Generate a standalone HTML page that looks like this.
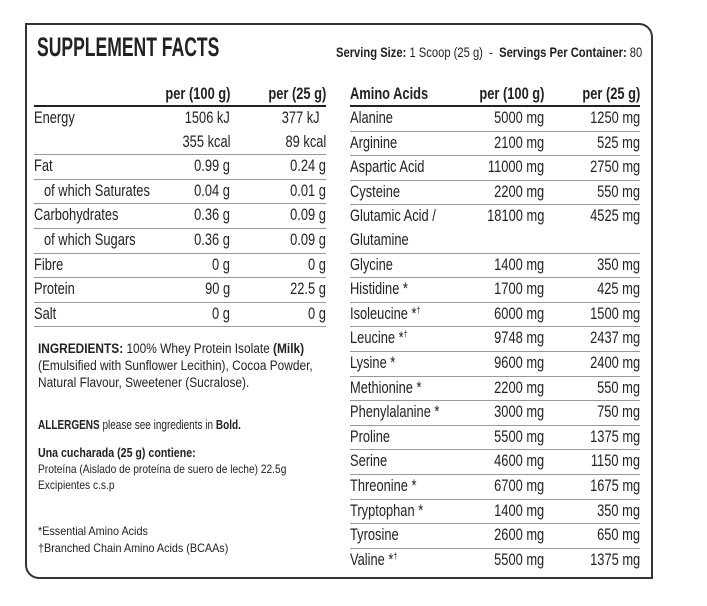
<!DOCTYPE html>
<html><head><meta charset="utf-8"><style>
body{margin:0;width:707px;height:606px;background:#fff;position:relative;overflow:hidden;font-family:"Liberation Sans",sans-serif;color:#222}
.box{position:absolute;left:25px;top:23px;width:624px;height:552px;border:2px solid #333;border-radius:0 14px 0 14px}
.t{position:absolute;white-space:nowrap;transform-origin:left top}
.tbl{position:absolute}
.row{position:relative;height:23.6px;border-bottom:1px solid #999;font-size:16.5px;line-height:23px}
.row.nb{border-bottom:none}
.row span,.hd span{position:absolute;top:0;transform:scaleX(0.78);white-space:nowrap}
.hd{height:22px;border-bottom:2px solid #222;font-weight:bold;font-size:16.5px;line-height:22px;position:relative}
.l{transform-origin:left center}
.r1{right:96px;transform-origin:right center}.r2{right:0;transform-origin:right center}
sup{font-size:9px;line-height:0;vertical-align:6px}
</style></head><body>
<div class="box"></div>
<div class="t" style="left:37px;top:32px;font-size:27px;font-weight:bold;transform:scaleX(0.65)">SUPPLEMENT FACTS</div>
<div class="t" style="left:336px;top:44px;font-size:14px;transform:scaleX(0.8)"><b>Serving Size:</b> 1 Scoop (25 g) &nbsp;- &nbsp;<b>Servings Per Container:</b> 80</div>

<div class="tbl" style="left:34px;top:83px;width:292px">
<div class="hd"><span class="r1">per (100 g)</span><span class="r2">per (25 g)</span></div>
<div class="row nb"><span class="l" style="left:0">Energy</span><span class="r1">1506 kJ</span><span class="r2" style="right:6px">377 kJ</span></div>
<div class="row"><span class="r1">355 kcal</span><span class="r2">89 kcal</span></div>
<div class="row"><span class="l" style="left:0">Fat</span><span class="r1">0.99 g</span><span class="r2">0.24 g</span></div>
<div class="row"><span class="l" style="left:10px">of which Saturates</span><span class="r1">0.04 g</span><span class="r2">0.01 g</span></div>
<div class="row"><span class="l" style="left:0">Carbohydrates</span><span class="r1">0.36 g</span><span class="r2">0.09 g</span></div>
<div class="row"><span class="l" style="left:10px">of which Sugars</span><span class="r1">0.36 g</span><span class="r2">0.09 g</span></div>
<div class="row"><span class="l" style="left:0">Fibre</span><span class="r1">0 g</span><span class="r2">0 g</span></div>
<div class="row"><span class="l" style="left:0">Protein</span><span class="r1">90 g</span><span class="r2">22.5 g</span></div>
<div class="row"><span class="l" style="left:0">Salt</span><span class="r1">0 g</span><span class="r2">0 g</span></div>
</div>

<div class="tbl" style="left:350px;top:83px;width:290px">
<div class="hd"><span class="l" style="left:0">Amino Acids</span><span class="r1">per (100 g)</span><span class="r2">per (25 g)</span></div>
<div class="row"><span class="l" style="left:0">Alanine</span><span class="r1">5000 mg</span><span class="r2">1250 mg</span></div>
<div class="row"><span class="l" style="left:0">Arginine</span><span class="r1">2100 mg</span><span class="r2">525 mg</span></div>
<div class="row"><span class="l" style="left:0">Aspartic Acid</span><span class="r1">11000 mg</span><span class="r2">2750 mg</span></div>
<div class="row"><span class="l" style="left:0">Cysteine</span><span class="r1">2200 mg</span><span class="r2">550 mg</span></div>
<div class="row nb"><span class="l" style="left:0">Glutamic Acid /</span><span class="r1">18100 mg</span><span class="r2">4525 mg</span></div>
<div class="row"><span class="l" style="left:0">Glutamine</span></div>
<div class="row"><span class="l" style="left:0">Glycine</span><span class="r1">1400 mg</span><span class="r2">350 mg</span></div>
<div class="row"><span class="l" style="left:0">Histidine *</span><span class="r1">1700 mg</span><span class="r2">425 mg</span></div>
<div class="row"><span class="l" style="left:0">Isoleucine *<sup>†</sup></span><span class="r1">6000 mg</span><span class="r2">1500 mg</span></div>
<div class="row"><span class="l" style="left:0">Leucine *<sup>†</sup></span><span class="r1">9748 mg</span><span class="r2">2437 mg</span></div>
<div class="row"><span class="l" style="left:0">Lysine *</span><span class="r1">9600 mg</span><span class="r2">2400 mg</span></div>
<div class="row"><span class="l" style="left:0">Methionine *</span><span class="r1">2200 mg</span><span class="r2">550 mg</span></div>
<div class="row"><span class="l" style="left:0">Phenylalanine *</span><span class="r1">3000 mg</span><span class="r2">750 mg</span></div>
<div class="row"><span class="l" style="left:0">Proline</span><span class="r1">5500 mg</span><span class="r2">1375 mg</span></div>
<div class="row"><span class="l" style="left:0">Serine</span><span class="r1">4600 mg</span><span class="r2">1150 mg</span></div>
<div class="row"><span class="l" style="left:0">Threonine *</span><span class="r1">6700 mg</span><span class="r2">1675 mg</span></div>
<div class="row"><span class="l" style="left:0">Tryptophan *</span><span class="r1">1400 mg</span><span class="r2">350 mg</span></div>
<div class="row"><span class="l" style="left:0">Tyrosine</span><span class="r1">2600 mg</span><span class="r2">650 mg</span></div>
<div class="row nb"><span class="l" style="left:0">Valine *<sup>†</sup></span><span class="r1">5500 mg</span><span class="r2">1375 mg</span></div>
</div>

<div class="t" style="left:38px;top:340px;font-size:13.5px;line-height:17px;transform:scaleX(0.88)"><b>INGREDIENTS:</b> 100% Whey Protein Isolate <b>(Milk)</b><br>(Emulsified with Sunflower Lecithin), Cocoa Powder,<br>Natural Flavour, Sweetener (Sucralose).</div>
<div class="t" style="left:38px;top:418px;font-size:12.5px;transform:scaleX(0.8)"><b>ALLERGENS</b> please see ingredients in <b>Bold.</b></div>
<div class="t" style="left:38px;top:445px;font-size:12.5px;line-height:16px;transform:scaleX(0.85)"><b>Una cucharada (25 g) contiene:</b><br><span style="font-size:12px">Proteína (Aislado de proteína de suero de leche) 22.5g<br>Excipientes c.s.p</span></div>
<div class="t" style="left:38px;top:523px;font-size:12px;line-height:17px;transform:scaleX(0.9)">*Essential Amino Acids<br>†Branched Chain Amino Acids (BCAAs)</div>
</body></html>
